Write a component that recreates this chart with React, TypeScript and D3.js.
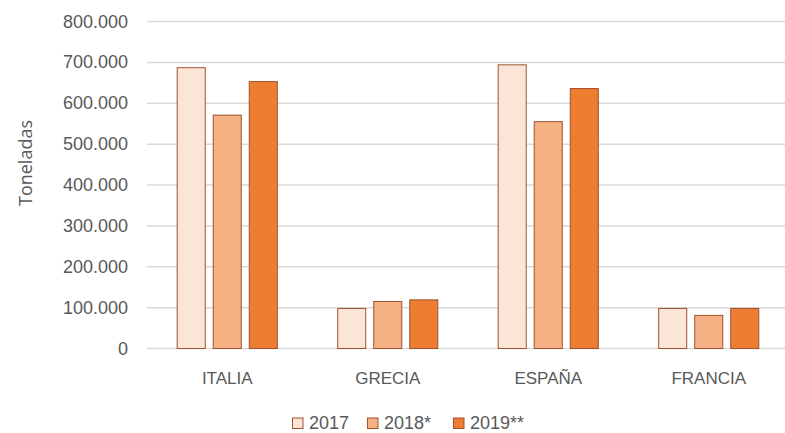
import React from "react";
import * as d3 from "d3";

const categories = ["ITALIA", "GRECIA", "ESPAÑA", "FRANCIA"];
const seriesNames = ["2017", "2018*", "2019**"];
const values2017 = [687000, 98000, 694000, 98000];
const values2018 = [571000, 115000, 555000, 81000];
const values2019 = [653000, 119000, 636000, 98000];
const yTicks = [0, 100000, 200000, 300000, 400000, 500000, 600000, 700000, 800000];
const fills = ["#FBE5D6", "#F4B183", "#ED7D31"];

const W = 785;
const H = 433;
const left = 147;
const right = 789;
const top = 21.5;
const bottom = 348.5;
const font = "'Liberation Sans', Arial, sans-serif";

const fmt = (v: number) =>
  v === 0 ? "0" : d3.format(",")(v).replace(/,/g, ".");

const App = () => {
  const series = [values2017, values2018, values2019];
  const y = d3.scaleLinear().domain([0, 800000]).range([bottom, top]);
  const x0 = d3
    .scaleBand()
    .domain(categories)
    .range([left, right])
    .paddingInner(0.37)
    .paddingOuter(0.185);
  const x1 = d3
    .scaleBand()
    .domain(seriesNames)
    .range([0, x0.bandwidth()])
    .paddingInner(0.194)
    .paddingOuter(0);

  const legendX = [292, 367, 453];

  return (
    <svg width={W} height={H} style={{ position: "absolute", left: 0, top: 0 }}>
      <rect width={W} height={H} fill="#fff" />
      {yTicks.map(t => (
        <g key={t}>
          <line
            x1={left}
            x2={right}
            y1={y(t)}
            y2={y(t)}
            stroke="#D9D9D9"
            strokeWidth={1.5}
          />
          <text
            x={128}
            y={y(t) + 6}
            textAnchor="end"
            fontFamily={font}
            fontSize={18}
            fill="#595959"
          >
            {fmt(t)}
          </text>
        </g>
      ))}
      {categories.map((c, i) => (
        <g key={c} transform={`translate(${x0(c)},0)`}>
          {series.map((s, j) => (
            <rect
              key={j}
              x={x1(seriesNames[j])! + 0.5}
              y={y(s[i])}
              width={x1.bandwidth() - 1}
              height={bottom - y(s[i])}
              fill={fills[j]}
              stroke="#A0522D"
              strokeWidth={1}
            />
          ))}
        </g>
      ))}
      {categories.map(c => (
        <text
          key={c}
          x={x0(c)! + x0.bandwidth() / 2}
          y={384}
          textAnchor="middle"
          fontFamily={font}
          fontSize={17}
          fill="#595959"
        >
          {c}
        </text>
      ))}
      <text
        transform={`translate(32,163) rotate(-90)`}
        textAnchor="middle"
        fontFamily="'Open Sans', sans-serif"
        fontSize={18}
        fill="#595959"
      >
        Toneladas
      </text>
      {seriesNames.map((n, j) => (
        <g key={n} transform={`translate(${legendX[j]},0)`}>
          <rect
            x={0.5}
            y={418}
            width={10.5}
            height={10.5}
            fill={fills[j]}
            stroke="#A0522D"
            strokeWidth={1}
          />
          <text x={17} y={429} fontFamily={font} fontSize={18} fill="#595959">
            {n}
          </text>
        </g>
      ))}
    </svg>
  );
};

export default App;
